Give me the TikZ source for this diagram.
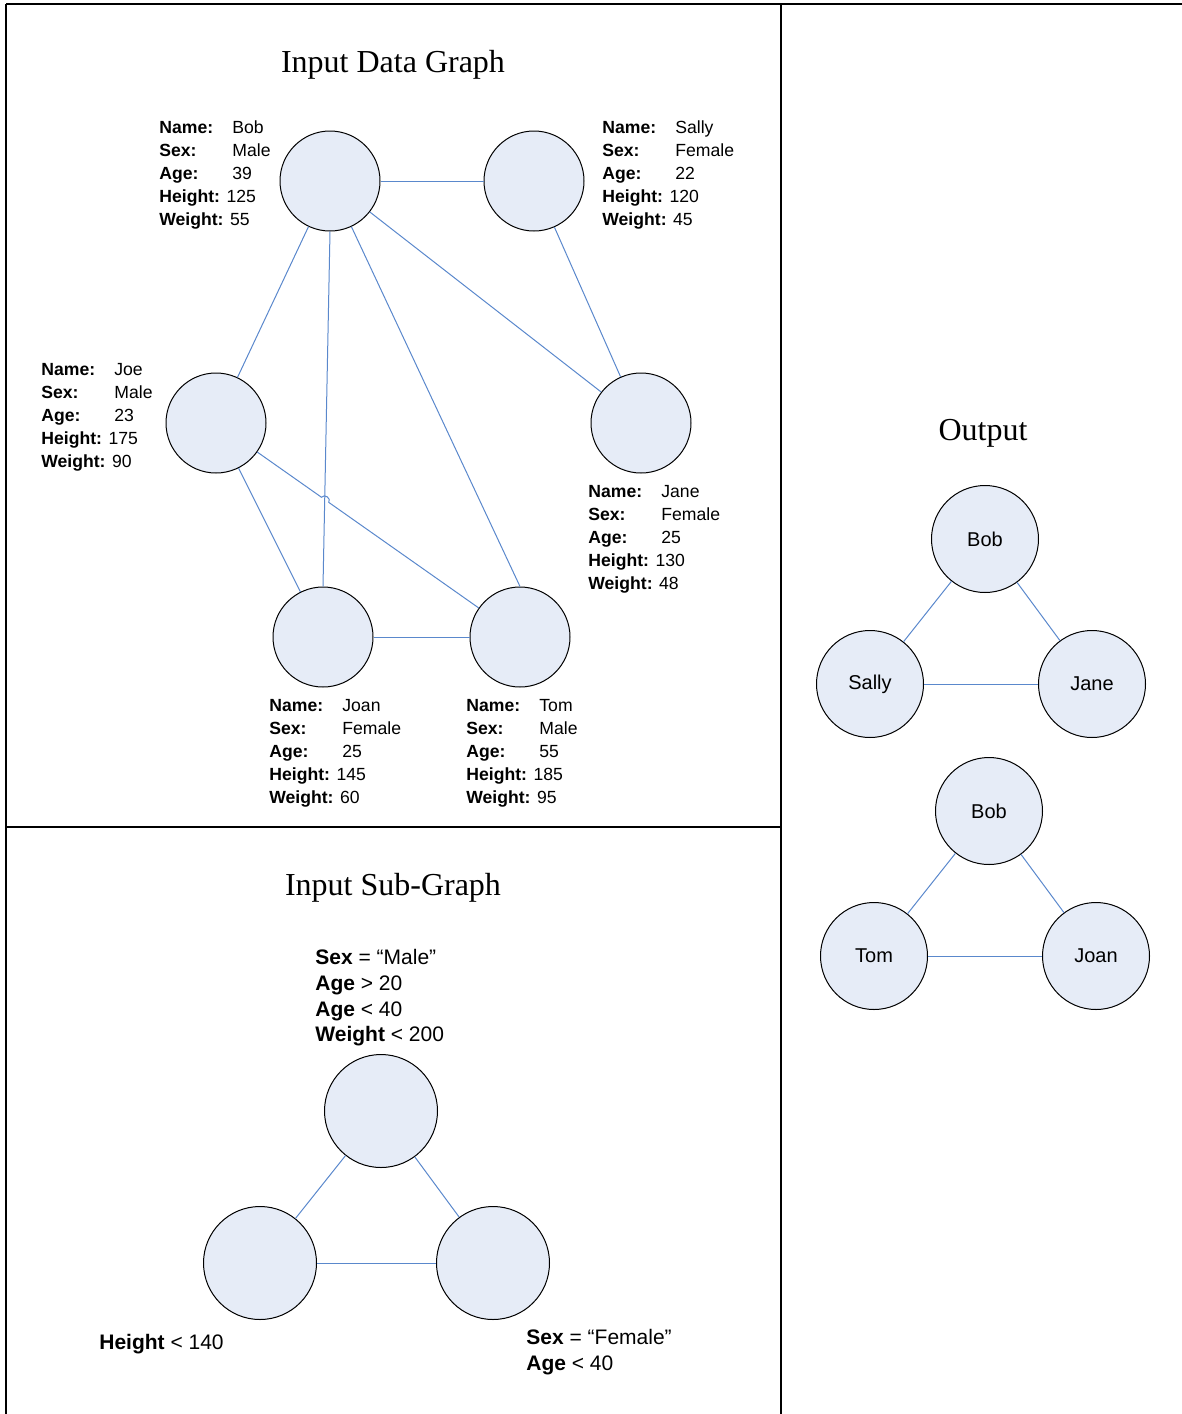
\documentclass[tikz,border=0pt]{standalone}
\usepackage{fontspec}
\setmainfont{Liberation Serif}
\setsansfont{Liberation Sans}
\usetikzlibrary{calc}

\definecolor{vfill}{HTML}{E6ECF7}
\definecolor{vedge}{HTML}{5A88CC}

% one record of the data graph
\newcommand{\person}[5]{\makebox[36.5pt][l]{\textbf{Name:}}#1\\\makebox[36.5pt][l]{\textbf{Sex:}}#2\\\makebox[36.5pt][l]{\textbf{Age:}}#3\\\textbf{Height:} #4\\\textbf{Weight:} #5}

\begin{document}
\begin{tikzpicture}[x=0.5pt, y=-0.5pt,
  vtx/.style={circle, draw=black, line width=0.5pt, fill=vfill, minimum size=50pt, inner sep=0pt},
  outv/.style={vtx, minimum size=53.5pt, font=\sffamily\fontsize{10}{12}\selectfont},
  subv/.style={vtx, minimum size=56.5pt},
  link/.style={draw=vedge, line width=0.5pt},
  frame/.style={draw=black, line width=1pt},
  info/.style={anchor=north west, inner sep=0pt, align=left, font=\sffamily\fontsize{8.8}{11.5}\selectfont},
  cond/.style={anchor=north west, inner sep=0pt, align=left, font=\sffamily\fontsize{10.5}{12.85}\selectfont},
  title/.style={font=\fontsize{16}{19}\selectfont}]
\useasboundingbox (0,0) rectangle (1182,1414);

% table
\draw[frame] (6,4) -- (1182,4);
\draw[frame] (6,4) -- (6,1414);
\draw[frame] (781,4) -- (781,1414);
\draw[frame] (6,827) -- (781,827);

% input data graph
\node[title] (t1) at (393,65) {Input Data Graph};

\node[vtx] (bob) at (330,181) {};
\node[vtx] (sally) at (534,181) {};
\node[vtx] (joe) at (216,423) {};
\node[vtx] (jane) at (641,423) {};
\node[vtx] (joan) at (323,637) {};
\node[vtx] (tom) at (520,637) {};

\node[info] (bobinfo) at (159,120) {\person{Bob}{Male}{39}{125}{55}};
\node[info] (sallyinfo) at (602,120) {\person{Sally}{Female}{22}{120}{45}};
\node[info] (joeinfo) at (41,363) {\person{Joe}{Male}{23}{175}{90}};
\node[info] (janeinfo) at (588,485) {\person{Jane}{Female}{25}{130}{48}};
\node[info] (joaninfo) at (269,699) {\person{Joan}{Female}{25}{145}{60}};
\node[info] (tominfo) at (466,699) {\person{Tom}{Male}{55}{185}{95}};

\draw[link] (bob) -- (sally);
\draw[link] (bob) -- (joe);
\draw[link] (bob.south) -- (joan.north);
\draw[link] (bob) -- (tom.north);
\draw[link] (bob) -- (jane);
\draw[link] (sally) -- (jane);
\draw[link] (joe) -- (joan);
\draw[link] (joan) -- (tom);
\coordinate (hopa) at ($(joe)!0.347!(tom)$);
\coordinate (hopb) at ($(joe)!0.371!(tom)$);
\draw[link] (joe) -- (hopa) to[bend left=90, looseness=1.4] (hopb) -- (tom);

% input sub-graph
\node[title] (t2) at (393,888) {Input Sub-Graph};

\node[subv] (s1) at (381,1111) {};
\node[subv] (s2) at (260,1263) {};
\node[subv] (s3) at (493,1263) {};
\draw[link] (s1) -- (s2);
\draw[link] (s1) -- (s3);
\draw[link] (s2) -- (s3);

\node[cond] (c1) at (315,949) {\textbf{Sex} = “Male”\\\textbf{Age} > 20\\\textbf{Age} < 40\\\textbf{Weight} < 200};
\node[cond] (c2) at (99,1334) {\textbf{Height} < 140};
\node[cond] (c3) at (526,1329) {\textbf{Sex} = “Female”\\\textbf{Age} < 40};

% output
\node[title] (t3) at (983,433) {Output};

\node[outv] (o1) at (985,539) {Bob};
\node[outv] (o2) at (870,684) {Sally};
\node[outv] (o3) at (1092,684) {Jane};
\draw[link] (o1) -- (o2);
\draw[link] (o1) -- (o3);
\draw[link] (o2) -- (o3);

\node[outv] (o4) at (989,811) {Bob};
\node[outv] (o5) at (874,956) {Tom};
\node[outv] (o6) at (1096,956) {Joan};
\draw[link] (o4) -- (o5);
\draw[link] (o4) -- (o6);
\draw[link] (o5) -- (o6);
\end{tikzpicture}
\end{document}
